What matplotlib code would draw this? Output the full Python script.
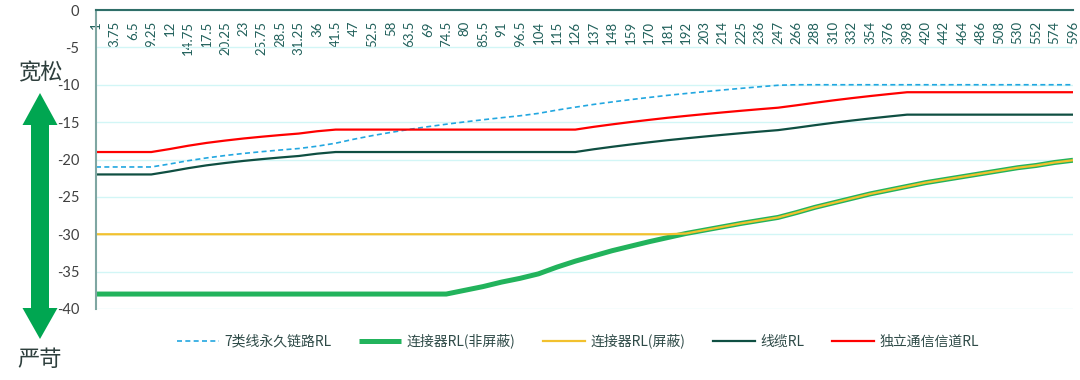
import matplotlib
matplotlib.use("Agg")
import matplotlib.pyplot as plt
from matplotlib.patches import Polygon

plt.rcParams['font.family'] = ['Noto Sans CJK SC', 'DejaVu Sans']

# 频率 (MHz) 分类轴
freqs = ['1', '3.75', '6.5', '9.25', '12', '14.75', '17.5', '20.25', '23', '25.75', '28.5', '31.25',
         '36', '41.5', '47', '52.5', '58', '63.5', '69', '74.5', '80', '85.5', '91', '96.5',
         '104', '115', '126', '137', '148', '159', '170', '181', '192', '203', '214', '225', '236', '247',
         '266', '288', '310', '332', '354', '376', '398', '420', '442', '464', '486', '508', '530', '552',
         '574', '596']

# 7类线永久链路RL
perm_link = [-21, -21, -21, -21, -20.6, -20.16, -19.79, -19.47, -19.19, -18.95, -18.73, -18.53,
             -18.22, -17.82, -17.28, -16.8, -16.37, -15.97, -15.61, -15.28, -14.97, -14.68, -14.41, -14.15,
             -13.83, -13.39, -13.0, -12.63, -12.3, -11.99, -11.7, -11.42, -11.17, -10.93, -10.7, -10.48,
             -10.27, -10.07,
             -10, -10, -10, -10, -10, -10, -10, -10, -10, -10, -10, -10, -10, -10, -10, -10]

# 连接器RL(非屏蔽)
conn_utp = [-38, -38, -38, -38, -38, -38, -38, -38, -38, -38, -38, -38,
            -38, -38, -38, -38, -38, -38, -38, -38, -37.5, -37.0, -36.4, -35.9,
            -35.3, -34.4, -33.6, -32.9, -32.2, -31.6, -31.0, -30.45, -29.9, -29.45, -29.0, -28.55,
            -28.15, -27.75,
            -27.1, -26.4, -25.8, -25.2, -24.6, -24.1, -23.6, -23.1, -22.7, -22.3, -21.9, -21.5,
            -21.1, -20.8, -20.4, -20.1]

# 连接器RL(屏蔽)
conn_stp = [-30, -30, -30, -30, -30, -30, -30, -30, -30, -30, -30, -30,
            -30, -30, -30, -30, -30, -30, -30, -30, -30, -30, -30, -30,
            -30, -30, -30, -30, -30, -30, -30, -30, -29.9, -29.45, -29.0, -28.55,
            -28.15, -27.75,
            -27.1, -26.4, -25.8, -25.2, -24.6, -24.1, -23.6, -23.1, -22.7, -22.3, -21.9, -21.5,
            -21.1, -20.8, -20.4, -20.1]

# 线缆RL
cable = [-22, -22, -22, -22, -21.6, -21.16, -20.78, -20.47, -20.19, -19.95, -19.73, -19.53,
         -19.22, -19, -19, -19, -19, -19, -19, -19, -19, -19, -19, -19,
         -19, -19, -19, -18.63, -18.3, -17.99, -17.7, -17.42, -17.17, -16.93, -16.7, -16.48,
         -16.27, -16.07,
         -15.75, -15.41, -15.09, -14.79, -14.51, -14.25, -14.0, -14, -14, -14, -14, -14,
         -14, -14, -14, -14]

# 独立通信信道RL
channel = [-19, -19, -19, -19, -18.6, -18.16, -17.78, -17.47, -17.19, -16.95, -16.73, -16.53,
           -16.22, -16, -16, -16, -16, -16, -16, -16, -16, -16, -16, -16,
           -16, -16, -16, -15.63, -15.3, -14.99, -14.7, -14.42, -14.17, -13.93, -13.7, -13.48,
           -13.27, -13.07,
           -12.75, -12.41, -12.09, -11.79, -11.51, -11.25, -11.0, -11, -11, -11, -11, -11,
           -11, -11, -11, -11]

W, H = 1080, 380
fig = plt.figure(figsize=(W / 100, H / 100), dpi=100)
ax = fig.add_axes([96 / W, 1 - 309 / H, (1073 - 96) / W, (309 - 10) / H])

x = list(range(len(freqs)))
ax.plot(x, perm_link, color='#22A7E0', lw=1.2, ls=(0, (3, 2)), label='7类线永久链路RL')
ax.plot(x, conn_utp, color='#22B35C', lw=3.6, solid_capstyle='butt', label='连接器RL(非屏蔽)')
ax.plot(x, conn_stp, color='#F2C12E', lw=1.6, label='连接器RL(屏蔽)')
ax.plot(x, cable, color='#0F4F42', lw=1.6, label='线缆RL')
ax.plot(x, channel, color='#FF0000', lw=1.6, label='独立通信信道RL')

ax.set_xlim(0, len(freqs) - 1)
ax.set_ylim(-40, 0)
ax.set_yticks(range(-40, 1, 5))
ax.set_yticklabels([str(v) for v in range(-40, 1, 5)], family='Lato')
ax.yaxis.grid(True, color='#D2F6F6', lw=1)
ax.set_axisbelow(True)

ax.xaxis.set_ticks_position('top')
ax.set_xticks(x)
ax.set_xticklabels(freqs, rotation=90, family='Lato')
ax.tick_params(axis='x', length=0, pad=-8, labelsize=9.5, labelcolor='#1F5F5A')
for t in ax.get_xticklabels():
    t.set_va('top')
ax.tick_params(axis='y', length=0, pad=12, labelsize=10.5, labelcolor='#404040')

for s in ['right', 'bottom']:
    ax.spines[s].set_visible(False)
ax.spines['top'].set_color('#2F6E68')
ax.spines['top'].set_linewidth(1.5)
ax.spines['left'].set_color('#7FA6A2')
ax.spines['left'].set_linewidth(1.5)

# 左侧双向箭头
def px(xp, yp):
    return (xp / W, 1 - yp / H)

arrow_pts = [px(40, 93), px(57.5, 125), px(49, 125), px(49, 308), px(57.5, 308), px(40, 339),
             px(22.5, 308), px(31, 308), px(31, 125), px(22.5, 125)]
fig.add_artist(Polygon(arrow_pts, closed=True, transform=fig.transFigure,
                       facecolor='#00A651', edgecolor='none'))
fig.text(40 / W, 1 - 73 / H, '宽松', ha='center', va='center', fontsize=16, color='#2E3F3D')
fig.text(40 / W, 1 - 360 / H, '严苛', ha='center', va='center', fontsize=16, color='#2E3F3D')

fig.legend(loc='center', bbox_to_anchor=(578 / W, 1 - 341 / H), ncol=5, frameon=False,
           fontsize=10, handlelength=3.0, columnspacing=2.0, handletextpad=0.4,
           labelcolor='#2E4A47')

fig.savefig('out.png', dpi=100)
